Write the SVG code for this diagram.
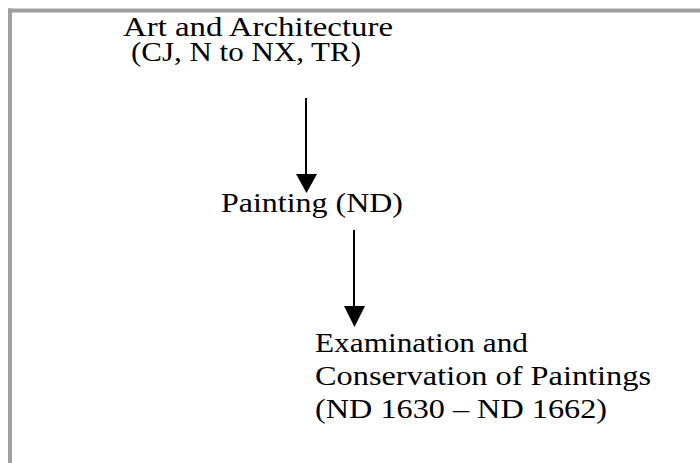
<svg xmlns="http://www.w3.org/2000/svg" width="700" height="463" viewBox="0 0 700 463">
  <style>
    .t { font-family: "Liberation Serif", "Times New Roman", serif; font-size: 28px; fill: #000; }
    .edge { stroke: #000; stroke-width: 2; fill: none; }
    .head { fill: #000; }
    .frame { fill: #a0a0a0; }
  </style>
  <rect width="700" height="463" fill="#fff"/>
  <rect class="frame" x="8" y="8.5" width="692" height="4"/>
  <rect class="frame" x="8" y="8.5" width="4" height="454.5"/>
  <g id="node-art">
    <text class="t" x="123" y="36" textLength="270" lengthAdjust="spacingAndGlyphs">Art and Architecture</text>
    <text class="t" x="131" y="61" textLength="230" lengthAdjust="spacingAndGlyphs">(CJ, N to NX, TR)</text>
  </g>
  <g id="node-painting">
    <text class="t" x="221" y="212" textLength="182" lengthAdjust="spacingAndGlyphs">Painting (ND)</text>
  </g>
  <g id="node-conservation">
    <text class="t" x="315" y="352" textLength="213" lengthAdjust="spacingAndGlyphs">Examination and</text>
    <text class="t" x="315" y="385" textLength="336" lengthAdjust="spacingAndGlyphs">Conservation of Paintings</text>
    <text class="t" x="315" y="418" textLength="292" lengthAdjust="spacingAndGlyphs">(ND 1630 – ND 1662)</text>
  </g>
  <g id="connectors">
    <line class="edge" x1="306" y1="98" x2="306" y2="176"/>
    <polygon class="head" points="296,174 317,174 306.5,193"/>
    <line class="edge" x1="354" y1="230" x2="354" y2="308"/>
    <polygon class="head" points="344,306 365,306 354.5,327"/>
  </g>
</svg>
